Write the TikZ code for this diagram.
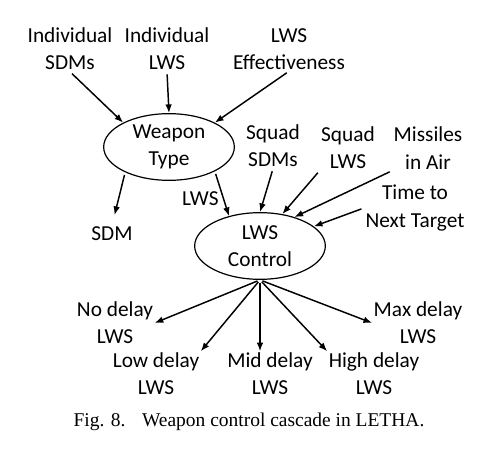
\documentclass[tikz,border=0pt]{standalone}
\usepackage{fontspec}
\setmainfont{Carlito}
\newfontfamily\capfont{Liberation Serif}
\usetikzlibrary{shapes.geometric,arrows.meta}

\tikzset{
  lbl/.style={align=center,inner sep=1pt,font=\fontsize{16}{20.5}\selectfont},
  blob/.style={ellipse,draw,line width=0.9pt,minimum width=98pt,minimum height=50pt,inner sep=0pt,align=center,font=\fontsize{16}{20.5}\selectfont},
  flow/.style={-{Latex[length=6.5pt,width=5pt]},line width=1.1pt,shorten <=2pt}
}

\begin{document}
\begin{tikzpicture}[x=0.75pt,y=0.75pt,yscale=-1]

\useasboundingbox (0,0) rectangle (490,449);

% Ellipses
\draw (169,147) node (wt) [blob] {Weapon\\Type};
\draw (260,246) node (lc) [blob] {LWS\\Control};

% Text Node
\draw (70,49) node (isdm) [lbl] {Individual\\SDMs};
% Text Node
\draw (167,49) node (ilws) [lbl] {Individual\\LWS};
% Text Node
\draw (289,49) node (lwse) [lbl] {LWS\\Effectiveness};
% Text Node
\draw (273,146) node (ssdm) [lbl] {Squad\\SDMs};
% Text Node
\draw (348,148) node (slws) [lbl] {Squad\\LWS};
% Text Node
\draw (428,148) node (mia) [lbl] {Missiles\\in Air};
% Text Node
\draw (415,208) node (ttnt) [lbl] {Time to\\Next Target};
% Text Node
\draw (112,234) node (sdm) [lbl] {SDM};
% Text Node
\draw (115,323) node (nd) [lbl] {No delay\\LWS};
% Text Node
\draw (156,374) node (ld) [lbl] {Low delay\\LWS};
% Text Node
\draw (270,374) node (md) [lbl] {Mid delay\\LWS};
% Text Node
\draw (374,374) node (hd) [lbl] {High delay\\LWS};
% Text Node
\draw (418,323) node (mx) [lbl] {Max delay\\LWS};

% inputs of weapon type
\draw [flow] (isdm.south) -- (wt.152);
\draw [flow] (ilws.south) -- (wt.north);
\draw [flow] (lwse.south) -- (wt.28);

% outputs of weapon type
\draw [flow,shorten >=8pt] (wt.210) -- (sdm.north);
\draw [flow] (wt.332) -- node [lbl,left=2pt,pos=0.6] (lwslbl) {LWS} (lc.136);

% inputs of LWS control
\draw [flow] (ssdm.south) -- (lc.north);
\draw [flow] (slws.south west) -- (lc.55);
\draw [flow] (mia.south west) -- (lc.40);
\draw [flow] (ttnt.west) -- (lc.20);

% delay outputs
\draw [flow] (lc.south) -- (nd.east);
\draw [flow] (lc.south) -- (ld.north east);
\draw [flow] (lc.south) -- (lc.south |- md.north);
\draw [flow] (lc.south) -- (hd.north west);
\draw [flow] (lc.south) -- (mx.west);

% Caption
\draw (249,422) node (cap) [font=\capfont\fontsize{14.6}{16}\selectfont] {Fig. 8.\hspace{0.85em}Weapon control cascade in LETHA.};
\end{tikzpicture}
\end{document}
